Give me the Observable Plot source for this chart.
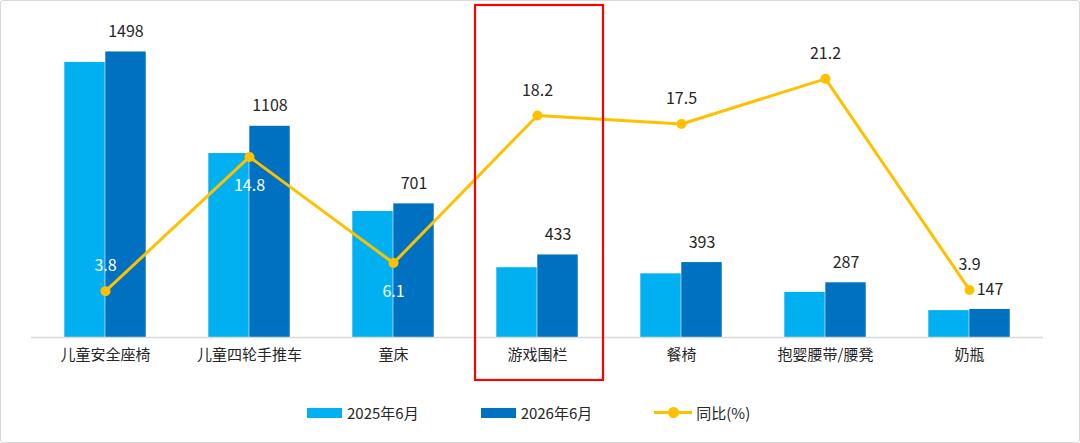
<!DOCTYPE html>
<html>
<head>
<meta charset="utf-8">
<script src="https://cdn.jsdelivr.net/npm/d3@7"></script>
<script src="https://cdn.jsdelivr.net/npm/@observablehq/plot@0.6"></script>
<style>
  html, body { margin: 0; padding: 0; background: #fff; }
  #box { position: relative; width: 1078px; height: 441px; border: 1px solid #d9d9d9; border-radius: 3px; overflow: hidden;
         font-family: "Noto Sans CJK SC", "Noto Sans", sans-serif; }
  #legend { position: absolute; left: 306px; top: 401px; display: flex; align-items: center; font-size: 15px; color: #262626; }
  .item { display: flex; align-items: center; margin-right: 62px; }
  .sw { width: 35px; height: 10px; margin-right: 5px; }
  .ln { position: relative; width: 38px; height: 3px; background: #FFC000; margin-right: 4px; }
  .ln::after { content: ""; position: absolute; left: 14px; top: -4px; width: 11px; height: 11px; border-radius: 50%; background: #FFC000; }
</style>
</head>
<body>
<div id="box">
  <div id="chart"></div>
  <div id="legend">
    <div class="item"><div class="sw" style="background:#00B0F0"></div><span>2025年6月</span></div>
    <div class="item"><div class="sw" style="background:#0070C0"></div><span>2026年6月</span></div>
    <div class="item"><div class="ln"></div><span>同比(%)</span></div>
  </div>
</div>
<script>
const categories = ["儿童安全座椅", "儿童四轮手推车", "童床", "游戏围栏", "餐椅", "抱婴腰带/腰凳", "奶瓶"];
const values2025 = [1443, 965, 661, 366, 334, 237, 141];
const values2026 = [1498, 1108, 701, 433, 393, 287, 147];
const yoy = [3.8, 14.8, 6.1, 18.2, 17.5, 21.2, 3.9];
const highlighted = ["游戏围栏"];
const yoyLabelBelow = ["儿童四轮手推车", "童床"];

const W = 1078, H = 380, ML = 30, MR = 36, MT = 31, MB = 44;
const barMax = 1600, lineMax = 25, k = barMax / lineMax;
const bw = (W - ML - MR) / categories.length;
const barW = 41;
const pxPerUnit = (H - MT - MB) / barMax;

const rows = categories.map((c, i) => ({c, v25: values2025[i], v26: values2026[i], yoy: yoy[i], yy: yoy[i] * k}));
const labelOff = 25;
const lineLabels = rows.map(d => {
  const below = yoyLabelBelow.includes(d.c);
  const labelY = d.yy + (below ? -labelOff : labelOff) / pxPerUnit;
  const onBar = labelY < d.v26 ;
  return {...d, below, color: onBar ? "#ffffff" : "#262626"};
});

const plot = Plot.plot({
  width: W, height: H,
  marginLeft: ML, marginRight: MR, marginTop: MT, marginBottom: MB,
  style: {fontFamily: '"Noto Sans CJK SC", "Noto Sans", sans-serif', background: "transparent"},
  x: {domain: categories, padding: 0, label: null, tickSize: 0, tickPadding: 12, fontSize: 15},
  y: {domain: [0, barMax], axis: null},
  marks: [
    Plot.barY(rows, {x: "c", y: "v25", fill: "#00B0F0", insetLeft: bw / 2 - barW, insetRight: bw / 2}),
    Plot.barY(rows, {x: "c", y: "v26", fill: "#0070C0", insetLeft: bw / 2, insetRight: bw / 2 - barW}),
    Plot.ruleY([0], {stroke: "#d9d9d9", strokeWidth: 1.5}),
    Plot.axisX({tickSize: 0, tickPadding: 12, fontSize: 15, color: "#262626", label: null}),
    Plot.line(rows, {x: "c", y: "yy", stroke: "#FFC000", strokeWidth: 3}),
    Plot.dot(rows, {x: "c", y: "yy", fill: "#FFC000", r: 5}),
    Plot.text(rows, {x: "c", y: "v26", text: d => String(d.v26), dx: barW / 2, dy: -20, fontSize: 16, fill: "#262626"}),
    Plot.text(lineLabels.filter(d => !d.below), {x: "c", y: "yy", text: d => d.yoy.toFixed(1), dy: -labelOff, fontSize: 16, fill: "color"}),
    Plot.text(lineLabels.filter(d => d.below), {x: "c", y: "yy", text: d => d.yoy.toFixed(1), dy: labelOff + 4, fontSize: 16, fill: "color"}),
    Plot.barY(highlighted, {x: d => d, y1: 0, y2: barMax, fill: "none", stroke: "#FF0000", strokeWidth: 2.2,
      insetLeft: 10, insetRight: 6, insetTop: -27, insetBottom: -43})
  ]
});
document.getElementById("chart").appendChild(plot);
</script>
</body>
</html>
